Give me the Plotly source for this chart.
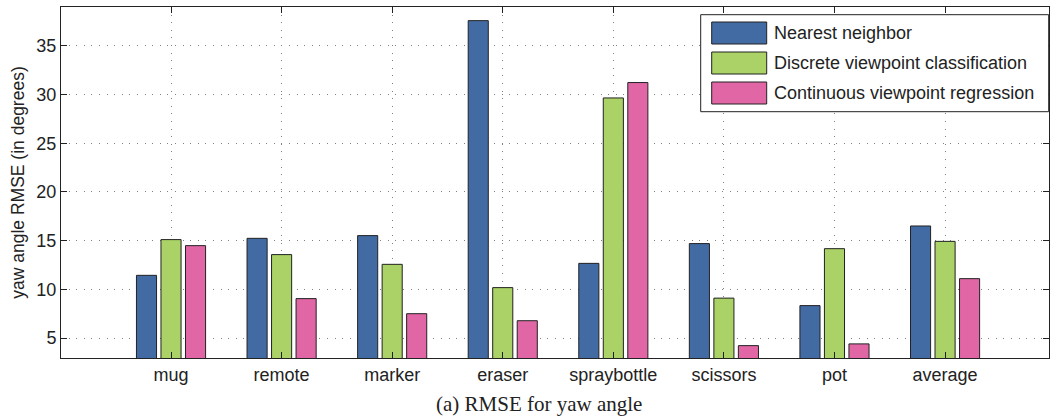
import plotly.graph_objects as go

categories = ["mug", "remote", "marker", "eraser", "spraybottle", "scissors", "pot", "average"]
nearest_neighbor = [11.44, 15.24, 15.52, 37.6, 12.67, 14.7, 8.33, 16.51]
discrete_classification = [15.11, 13.57, 12.57, 10.18, 29.66, 9.1, 14.18, 14.93]
continuous_regression = [14.49, 9.05, 7.5, 6.78, 31.24, 4.22, 4.4, 11.1]
series_names = ["Nearest neighbor", "Discrete viewpoint classification", "Continuous viewpoint regression"]
series_colors = ["#436ba3", "#aad266", "#e066a6"]
y_ticks = [5, 10, 15, 20, 25, 30, 35]

W, H = 1051, 419
ML, MR, MT, MB = 61, 2, 7, 61
PW, PH = W - ML - MR, H - MT - MB

def px(x):
    return (x - ML) / PW

def py(y):
    return (H - MB - y) / PH

fig = go.Figure()
for name, vals, col in zip(series_names, [nearest_neighbor, discrete_classification, continuous_regression], series_colors):
    fig.add_trace(go.Bar(
        x=categories, y=vals, name=name, base=0,
        marker=dict(color=col, line=dict(color="#222222", width=1)),
        showlegend=False,
    ))

font = "Liberation Sans, Arial, Helvetica, sans-serif"
fig.update_layout(
    width=W, height=H,
    margin=dict(l=ML, r=MR, t=MT, b=MB, autoexpand=False),
    paper_bgcolor="white", plot_bgcolor="white",
    barmode="group", bargap=0.335, bargroupgap=0.18,
    font=dict(family=font, size=18, color="#222222"),
)
fig.update_xaxes(
    type="category", range=[-0.995, 7.94], automargin=False,
    showline=True, linecolor="#222222", linewidth=1, mirror="ticks",
    ticks="inside", ticklen=6, tickcolor="#222222",
    showgrid=True, gridcolor="#808080", griddash="1px,6.6px", gridwidth=1,
    tickfont=dict(size=18, color="#222222"), zeroline=False,
)
fig.update_yaxes(
    range=[2.95, 39.0], tickvals=y_ticks, automargin=False,
    showline=True, linecolor="#222222", linewidth=1, mirror="ticks",
    ticks="inside", ticklen=6, tickcolor="#222222",
    showgrid=True, gridcolor="#808080", griddash="1px,6.6px", gridwidth=1,
    tickfont=dict(size=18, color="#222222"), zeroline=False,
    title=dict(text="yaw angle RMSE (in degrees)", font=dict(size=17.5, color="#222222"), standoff=7),
)

# legend box (manual, to match the large swatches)
shapes = [dict(type="rect", xref="paper", yref="paper",
               x0=px(700.7), x1=px(1048.7), y0=py(111.7), y1=py(14.7),
               fillcolor="white", line=dict(color="#222222", width=1), layer="above")]
annotations = []
row_centers = [33, 63, 93]
for name, col, cy in zip(series_names, series_colors, row_centers):
    shapes.append(dict(type="rect", xref="paper", yref="paper",
                       x0=px(711.7), x1=px(766.7), y0=py(cy + 11), y1=py(cy - 11),
                       fillcolor=col, line=dict(color="#222222", width=1), layer="above"))
    annotations.append(dict(xref="paper", yref="paper", x=px(772), y=py(cy),
                            xanchor="left", yanchor="middle", showarrow=False,
                            text=name, font=dict(size=18, family=font, color="#222222")))

annotations.append(dict(xref="paper", yref="paper", x=px(539), y=py(404),
                        xanchor="center", yanchor="middle", showarrow=False,
                        text="(a) RMSE for yaw angle",
                        font=dict(size=21, family="Liberation Serif, Times New Roman, serif", color="#222222")))
fig.update_layout(shapes=shapes, annotations=annotations)

fig.write_html("out.html",
               config={"displayModeBar": False},
               post_script="document.body.style.margin='0';document.body.style.overflow='hidden';")
